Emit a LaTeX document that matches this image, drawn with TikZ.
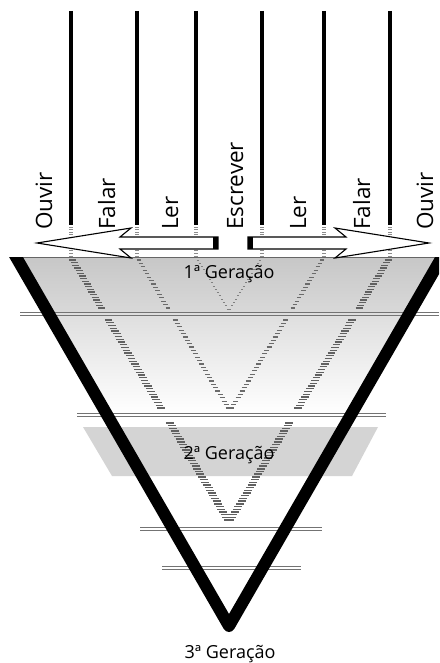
\documentclass[tikz,border=0pt]{standalone}
\usepackage{fontspec}
\setmainfont{Open Sans}
\begin{document}
\begin{tikzpicture}[x=1pt,y=-1pt,
  vline/.style={line width=3.6pt,black},
  arrowst/.style={draw=black,fill=white,line width=1.1pt,line join=miter},
  dbl/.style={line width=1pt,black!55},
  lbl/.style={rotate=90,anchor=base west,inner sep=0pt,font=\fontsize{22.5}{22.5}\selectfont},
  gen/.style={anchor=base,inner sep=0pt,font=\fontsize{18}{18}\selectfont},
  outerh/.style={line width=1.4pt,black!62},
  midh/.style={line width=1.2pt,black!58},
  innh/.style={line width=1pt,black!50},
  conth/.style={line width=0.9pt,black!45}]
\newcommand{\hatchseg}[9]{\foreach \i in {0,...,#7}{\pgfmathsetmacro{\yy}{#5+(#6-#5)*\i/#7}\pgfmathsetmacro{\xx}{#1+((#3-#1)/(#4-#2))*(\yy-#2)}\draw[#9] (\xx-#8,\yy) -- (\xx+#8,\yy);}}
\useasboundingbox (0,0) rectangle (439,663);
\fill[white] (0,0) rectangle (439,663);
% gradient inside triangle
\begin{scope}
\clip (16,257) -- (229,626) -- (442,257) -- cycle;
\shade[top color=black!22,bottom color=black!15] (0,257) rectangle (439,313);
\shade[top color=black!13,bottom color=white] (0,313) rectangle (439,414);
\end{scope}
\draw[line width=1pt,black!60] (10,257) -- (439,257);
% 2nd generation band
\fill[black!17] (83,427) -- (378,427) -- (352,476) -- (112,476) -- cycle;
% double lines
\foreach \ya/\xa/\xb in {312/20/439,413/77/386,527/140/322,566/162/301}{
  \draw[dbl] (\xa,\ya) -- (\xb,\ya);
  \draw[dbl] (\xa,\ya+3.5) -- (\xb,\ya+3.5);
}
% hatched V lines: outer
\hatchseg{71}{257}{229}{522}{260}{308}{18}{3.5}{outerh}
\hatchseg{71}{257}{229}{522}{320}{408}{32}{3.8}{outerh}
\hatchseg{71}{257}{229}{522}{423}{520}{36}{4}{outerh}
\hatchseg{390}{257}{229}{522}{260}{308}{18}{3.5}{outerh}
\hatchseg{390}{257}{229}{522}{320}{408}{32}{3.8}{outerh}
\hatchseg{390}{257}{229}{522}{423}{520}{36}{4}{outerh}
% middle
\hatchseg{137}{257}{230}{411}{260}{308}{14}{2.3}{midh}
\hatchseg{137}{257}{230}{411}{320}{408}{26}{2.5}{midh}
\hatchseg{324}{257}{230}{411}{260}{308}{14}{2.3}{midh}
\hatchseg{324}{257}{230}{411}{320}{408}{26}{2.5}{midh}
% inner
\hatchseg{196}{257}{229}{311}{260}{309}{15}{1}{innh}
\hatchseg{262}{257}{229}{311}{260}{309}{15}{1}{innh}
% black triangle
\begin{scope}
\clip (0,257) rectangle (439,663);
\draw[line width=12pt,line join=round] (6.2,240) -- (229,626) -- (451.8,240);
\end{scope}
% vertical lines and continuation
\foreach \x in {71,137,196,262,324,390}{
  \draw[vline] (\x,11) -- (\x,225);
  \hatchseg{\x}{0}{\x}{1}{227}{256}{11}{2}{conth}
}
% arrows
\draw[arrowst] (218,237) -- (120,237) -- (131,228) -- (37,243) -- (131,258) -- (120,249) -- (218,249) -- cycle;
\fill[black] (213,237) rectangle (218,249);
\draw[arrowst] (248,237) -- (346,237) -- (335,228) -- (429,243) -- (335,258) -- (346,249) -- (248,249) -- cycle;
\fill[black] (248,237) rectangle (253,249);
% labels
\node[lbl] (l1) at (52,230) {Ouvir};
\node[lbl] (l2) at (115,230) {Falar};
\node[lbl] (l3) at (178,230) {Ler};
\node[lbl] (l4) at (243,230) {Escrever};
\node[lbl] (l5) at (306,230) {Ler};
\node[lbl] (l6) at (370,230) {Falar};
\node[lbl] (l7) at (433,230) {Ouvir};
\node[gen] (g1) at (229,278) {1ª Geração};
\node[gen] (g2) at (229,459) {2ª Geração};
\node[gen] (g3) at (230,658) {3ª Geração};
\end{tikzpicture}
\end{document}
